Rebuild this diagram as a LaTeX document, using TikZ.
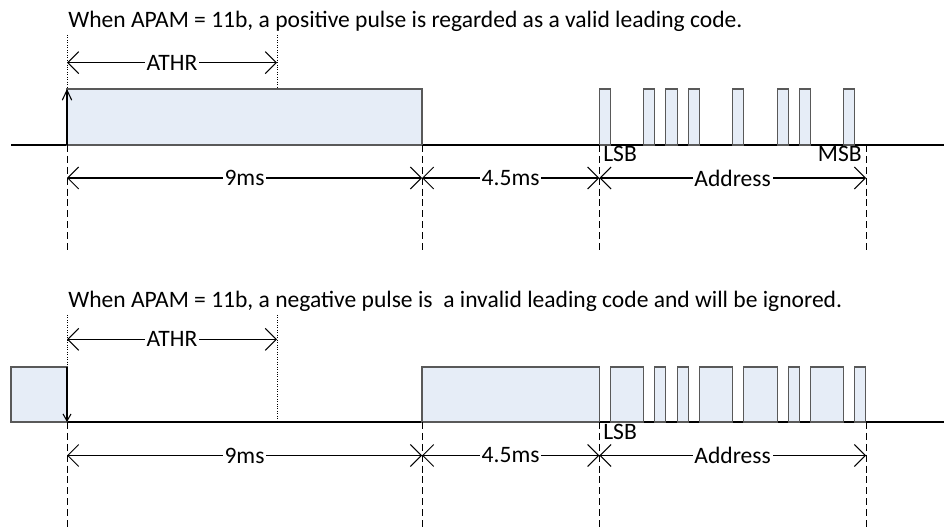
\documentclass[tikz,border=0pt]{standalone}
\usepackage{fontspec}
\setmainfont{Carlito}
\usetikzlibrary{arrows.meta, positioning, calc}
\definecolor{pulsefill}{RGB}{230,237,247}
\definecolor{pulseedge}{RGB}{89,89,89}

\begin{document}
\begin{tikzpicture}[
    x=0.02cm, y=-0.02cm,
    font=\fontsize{13.4}{15}\selectfont,
    pulse/.style={
        draw=pulseedge,
        fill=pulsefill,
        line width=0.6pt
    },
    level/.style={
        draw=black,
        line width=0.6pt
    },
    dimline/.style={
        draw=black,
        line width=0.6pt,
        {Straight Barb[length=2.2mm,width=4.4mm]}-{Straight Barb[length=2.2mm,width=4.4mm]}
    },
    guide/.style={
        draw=black,
        line width=0.5pt,
        dash pattern=on 4pt off 2.2pt
    },
    thrline/.style={
        draw=black,
        line width=0.4pt,
        densely dotted
    },
    dimlabel/.style={
        fill=white,
        inner sep=1pt
    },
    bitlabel/.style={
        inner sep=0pt
    }
]
\useasboundingbox (0,0) rectangle (944,530);

% ------------------------------------------------------------
% Top: positive leading pulse
% ------------------------------------------------------------
\node[anchor=base west, inner sep=0pt] (ptitle) at (68,28)
    {When APAM = 11b, a positive pulse is regarded as a valid leading code.};

\coordinate (pstart) at (67,145);
\coordinate (pmid) at (422,145);
\coordinate (plsb) at (599.3,145);
\coordinate (pmsb) at (866,145);

% waveform
\draw[level] (11,145) -- (944,145);
\draw[pulse] (pstart) rectangle (422,89);
\draw[level, -{Straight Barb[length=2mm,width=1.9mm]}] (pstart) -- (67,89);
% address bits, half a slot wide
\foreach \b in {0,2,3,4,6,8,9,11}
    \draw[pulse] ($(plsb)+(\b*22.22,0)$) rectangle ++(11.1,-56);

% guides
\draw[thrline] (67,35) -- (67,89);
\draw[thrline] (277,35) -- (277,89);
\foreach \c in {pstart,pmid,plsb,pmsb}
    \draw[guide] (\c) -- ++(0,108);

% dimensions
\coordinate (pa0) at (67,62.7);
\coordinate (pa1) at (277,62.7);
\draw[dimline] (pa0) -- node[dimlabel] (pathr) {ATHR} (pa1);

\coordinate (pd0) at (67,178);
\coordinate (pd1) at (422,178);
\coordinate (pd2) at (599.3,178);
\coordinate (pd3) at (866,178);
\draw[dimline] (pd0) -- node[dimlabel] (p9ms) {9ms} (pd1);
\draw[dimline] (pd1) -- node[dimlabel] (p45ms) {4.5ms} (pd2);
\draw[dimline] (pd2) -- node[dimlabel] (paddr) {Address} (pd3);

\node[bitlabel, anchor=base west] (plsbtext) at (603,162) {LSB};
\node[bitlabel, anchor=base east] (pmsbtext) at (862,162) {MSB};

% ------------------------------------------------------------
% Bottom: negative leading pulse
% ------------------------------------------------------------
\node[anchor=base west, inner sep=0pt] (ntitle) at (68,308)
    {When APAM = 11b, a negative pulse is \ a invalid leading code and will be ignored.};

\begin{scope}[shift={(0,277)}]
    \coordinate (nstart) at (67,145);
    \coordinate (nmid) at (422,145);
    \coordinate (nlsb) at (599.3,145);
    \coordinate (nmsb) at (866,145);

    % waveform
    \draw[level] (11,145) -- (944,145);
    \draw[pulse] (11,145) rectangle (67,90);
    \draw[level, -{Straight Barb[length=1.4mm,width=1.6mm]}] (67,90) -- (nstart);
    \draw[pulse] (nmid) rectangle (599.3,90);
    % inverted address bits
    \foreach \s/\e in {0/2,2/3,3/4,4/6,6/8,8/9,9/11,11/12}
        \draw[pulse] ($(nlsb)+(\s*22.22+11.1,0)$) rectangle ($(nlsb)+(\e*22.22,-55)$);

    % guides
    \draw[thrline] (67,38) -- (67,90);
    \draw[thrline] (277,38) -- (277,145);
    \foreach \c in {nstart,nmid,nlsb,nmsb}
        \draw[guide] (\c) -- ++(0,108);

    % dimensions
    \coordinate (na0) at (67,62.3);
    \coordinate (na1) at (277,62.3);
    \draw[dimline] (na0) -- node[dimlabel] (nathr) {ATHR} (na1);

    \coordinate (nd0) at (67,178.5);
    \coordinate (nd1) at (422,178.5);
    \coordinate (nd2) at (599.3,178.5);
    \coordinate (nd3) at (866,178.5);
    \draw[dimline] (nd0) -- node[dimlabel] (n9ms) {9ms} (nd1);
    \draw[dimline] (nd1) -- node[dimlabel] (n45ms) {4.5ms} (nd2);
    \draw[dimline] (nd2) -- node[dimlabel] (naddr) {Address} (nd3);

    \node[bitlabel, anchor=base west] (nlsbtext) at (603,162.5) {LSB};
\end{scope}

\end{tikzpicture}
\end{document}
